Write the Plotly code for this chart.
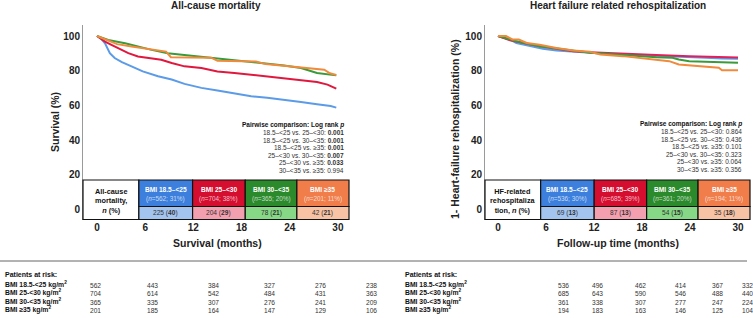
import plotly.graph_objects as go

W, H = 753, 318
FONT = "Liberation Sans, Arial, sans-serif"

# ---------------- data ----------------
groups = ["BMI 18.5–&lt;25", "BMI 25–&lt;30", "BMI 30–&lt;35", "BMI ≥35"]
risk_labels = ["BMI 18.5-&lt;25 kg/m<sup>2</sup>", "BMI 25-&lt;30 kg/m<sup>2</sup>",
               "BMI 30-&lt;35 kg/m<sup>2</sup>", "BMI ≥35 kg/m<sup>2</sup>"]

# All-cause mortality (survival %)
t_blue_L = [0, 0.5, 1.0, 1.6, 2.2, 3.1, 4.3, 5.7, 7.6, 9.3, 10.9, 13.0, 15.0, 17.1, 19.2, 21.2, 23.3, 25.4, 27.4, 29.1, 29.8]
s_blue_L = [100, 98.5, 95.8, 90.1, 87.3, 84.9, 82.5, 79.6, 76.8, 74.9, 72.4, 70.1, 68.6, 66.9, 65.3, 64.4, 63.3, 61.9, 60.6, 59.6, 58.7]
t_red_L = [0, 1.0, 1.8, 2.6, 3.9, 5.1, 6.8, 8.0, 9.3, 10.9, 13.0, 15.0, 17.1, 19.2, 21.2, 23.3, 25.4, 27.4, 28.7, 29.8]
s_red_L = [100, 96.8, 94.9, 93.0, 90.1, 88.2, 87.3, 86.3, 84.4, 82.5, 81.5, 79.6, 78.7, 77.7, 76.8, 75.8, 74.5, 73.5, 72.0, 69.7]
t_green_L = [0, 1.4, 3.5, 5.1, 6.8, 8.8, 10.9, 13.0, 15.0, 17.1, 19.2, 21.2, 23.3, 25.4, 27.4, 29.8]
s_green_L = [100, 97.7, 95.8, 93.9, 92.0, 90.1, 89.1, 88.2, 87.3, 86.3, 85.3, 84.4, 83.0, 81.5, 78.7, 77.3]
t_orange_L = [0, 1.5, 2.5, 4.3, 6.8, 8.6, 9.2, 14.2, 15.0, 19.8, 21.0, 25.4, 27.0, 28.3, 29.0, 29.8]
s_orange_L = [100, 97.0, 95.3, 93.9, 92.0, 91.0, 87.8, 87.5, 85.8, 85.3, 83.8, 82.0, 81.0, 80.6, 78.5, 77.5]

# HF rehospitalization (1 - event %)
t_blue_R = [0, 1.5, 2.3, 4.0, 5.6, 7.3, 9.4, 11.5, 13.5, 15.6, 17.7, 19.8, 21.8, 23.9, 26.0, 28.0, 30.0]
s_blue_R = [100, 97.9, 96.0, 94.1, 92.7, 91.6, 90.9, 90.3, 89.7, 89.3, 89.0, 88.4, 88.0, 87.8, 87.4, 87.0, 86.9]
t_red_R = [0, 1.5, 3.2, 5.2, 7.3, 9.4, 11.5, 15.6, 19.8, 23.9, 26.0, 28.0, 30.0]
s_red_R = [100, 97.5, 96.0, 94.1, 92.7, 91.2, 90.6, 89.7, 89.0, 88.4, 88.0, 87.6, 87.6]
t_green_R = [0, 2.3, 5.2, 7.3, 11.5, 13.5, 15.6, 19.8, 21.8, 22.6, 23.9, 26.0, 30.0]
s_green_R = [100, 97.0, 94.1, 92.7, 90.3, 89.7, 89.0, 87.8, 87.4, 86.5, 85.5, 85.1, 84.6]
t_orange_R = [0, 1.0, 1.8, 2.6, 3.6, 5.2, 7.3, 9.4, 11.5, 12.8, 15.6, 17.7, 19.8, 21.4, 22.6, 24.7, 27.6, 28.0, 30.0]
s_orange_R = [100, 100, 98.0, 98.0, 96.0, 95.0, 93.1, 91.6, 90.9, 89.3, 88.4, 87.4, 86.5, 85.5, 83.6, 82.7, 81.7, 80.2, 80.2]

x_ticks = [0, 6, 12, 18, 24, 30]
y_ticks = [0, 20, 40, 60, 80, 100]

n_L = [562, 704, 365, 201]
npct_L = [31, 38, 20, 11]
ev_L = [225, 204, 78, 42]
evpct_L = [40, 29, 21, 21]
n_R = [536, 685, 361, 194]
npct_R = [30, 39, 20, 11]
ev_R = [69, 87, 54, 35]
evpct_R = [13, 13, 15, 18]

pairs = ["18.5–&lt;25 vs. 25–&lt;30", "18.5–&lt;25 vs. 30–&lt;35", "18.5–&lt;25 vs. ≥35",
         "25–&lt;30 vs. 30–&lt;35", "25–&lt;30 vs. ≥35", "30–&lt;35 vs. ≥35"]
p_L = ["0.001", "0.001", "0.001", "0.007", "0.033", "0.994"]
p_L_sig = [True, True, True, True, True, False]
p_R = ["0.864", "0.436", "0.101", "0.323", "0.064", "0.356"]

risk_L = [[562, 443, 384, 327, 276, 238],
          [704, 614, 542, 484, 431, 363],
          [365, 335, 307, 276, 241, 209],
          [201, 185, 164, 147, 129, 106]]
risk_R = [[536, 496, 462, 414, 367, 332],
          [685, 643, 590, 546, 488, 440],
          [361, 338, 307, 277, 247, 224],
          [194, 183, 163, 146, 125, 104]]

# ---------------- styles ----------------
line_cols_L = ["#5b9be8", "#e0183e", "#3a9a3a", "#f08a3c"]
line_cols_R = ["#5b9be8", "#e0205a", "#3a9a3a", "#f08a3c"]
head_cols = ["#3d7fdc", "#d50d2f", "#2b8a2b", "#f07d4a"]
low_cols = ["#a3c4ef", "#f49fb0", "#86d886", "#f8c3a5"]


def px(x):
    return x / W


def py(y):
    return 1 - y / H


fig = go.Figure()

left = [(t_blue_L, s_blue_L), (t_red_L, s_red_L), (t_green_L, s_green_L), (t_orange_L, s_orange_L)]
right = [(t_blue_R, s_blue_R), (t_red_R, s_red_R), (t_green_R, s_green_R), (t_orange_R, s_orange_R)]
for (t, s), c in zip(left, line_cols_L):
    fig.add_trace(go.Scatter(x=t, y=s, mode="lines", line=dict(color=c, width=2),
                             xaxis="x", yaxis="y", hoverinfo="skip", showlegend=False))
for (t, s), c in zip(right, line_cols_R):
    fig.add_trace(go.Scatter(x=t, y=s, mode="lines", line=dict(color=c, width=2),
                             xaxis="x2", yaxis="y2", hoverinfo="skip", showlegend=False))

# axis geometry (pixels)
TOP, BOT = 25, 219.5
L_X0, L_X1 = 83, 349
R_X0, R_X1 = 485, 750
Y0_PX, Y100_PX = 209.5, 36
ppu = (Y0_PX - Y100_PX) / 100
yr = [-(BOT - Y0_PX) / ppu, 100 + (Y100_PX - TOP) / ppu]

axfont = dict(family=FONT, size=10, color="#222", weight="bold")
common_y = dict(range=yr, tickvals=y_ticks, showgrid=False, zeroline=False, showline=True,
                linecolor="#9a9a9a", linewidth=1, ticks="", tickfont=axfont,
                domain=[py(BOT), py(TOP)])
common_x = dict(tickvals=x_ticks, showgrid=False, zeroline=False, showline=False, ticks="",
                tickfont=axfont)

fig.update_layout(
    width=W, height=H, margin=dict(l=0, r=0, t=0, b=0),
    paper_bgcolor="white", plot_bgcolor="white",
    font=dict(family=FONT),
    xaxis=dict(domain=[px(L_X0), px(L_X1)], range=[-14 / 8.03, 252 / 8.03], anchor="y", **common_x),
    yaxis=dict(anchor="x", **common_y),
    xaxis2=dict(domain=[px(R_X0), px(R_X1)], range=[-13 / 8.0, 252 / 8.0], anchor="y2", **common_x),
    yaxis2=dict(anchor="x2", **common_y),
)

shapes = []
anns = []


def ann(text, x, y, size, color="#222", xanchor="center", yanchor="middle", angle=0, bold=False, align="center"):
    if bold:
        text = "<b>" + text + "</b>"
    anns.append(dict(text=text, x=px(x), y=py(y), xref="paper", yref="paper", showarrow=False,
                     xanchor=xanchor, yanchor=yanchor, textangle=angle, align=align,
                     font=dict(family=FONT, size=size, color=color), borderpad=0))


# Titles
ann("All-cause mortality", 216, 6, 10, bold=True)
ann("Heart failure related rehospitalization", 617.5, 6, 10, bold=True)
ann("Survival (%)", 55, 122, 10.5, bold=True, angle=-90)
ann("1- Heart-failure rehospitalization (%)", 455, 129, 10.5, bold=True, angle=-90)
ann("Survival (months)", 217, 243, 10.5, bold=True)
ann("Follow-up time (months)", 617.5, 243, 10.5, bold=True)

# Pairwise comparisons
pair_y_L = [125, 132.5, 140, 147.5, 155.2, 162.8, 170.4]
pair_y_R = [124, 131.5, 139, 146.6, 154.2, 161.8, 169.4]
ann("Pairwise comparison: Log rank <i>p</i>", 344.5, pair_y_L[0], 6.5, color="#111", xanchor="right", bold=True)
ann("Pairwise comparison: Log rank <i>p</i>", 743, pair_y_R[0], 6.5, color="#111", xanchor="right", bold=True)
for i, lab in enumerate(pairs):
    v = "<b>%s</b>" % p_L[i] if p_L_sig[i] else p_L[i]
    ann("%s: %s" % (lab, v), 344.5, pair_y_L[i + 1], 6.5, color="#333", xanchor="right")
    ann("%s: %s" % (lab, p_R[i]), 743, pair_y_R[i + 1], 6.5, color="#333", xanchor="right")

# Tables inside plots
T_TOP, T_MID, T_BOT = 180, 206.5, 219.5


def table(x0, x1, label, ns, npcts, evs, evpcts):
    fr = [0, 0.21, 0.412, 0.61, 0.804, 1.0]
    xs = [x0 + f * (x1 - x0) for f in fr]
    shapes.append(dict(type="rect", xref="paper", yref="paper", x0=px(xs[0]), x1=px(xs[1]),
                       y0=py(T_BOT), y1=py(T_TOP), fillcolor="white", line=dict(color="#111", width=1.2),
                       layer="above"))
    ann(label, (xs[0] + xs[1]) / 2, 200.5, 7.3, color="#111", bold=True)
    for i in range(4):
        a, b = xs[i + 1], xs[i + 2]
        shapes.append(dict(type="rect", xref="paper", yref="paper", x0=px(a), x1=px(b),
                           y0=py(T_MID), y1=py(T_TOP), fillcolor=head_cols[i],
                           line=dict(color="#111", width=1.2), layer="above"))
        shapes.append(dict(type="rect", xref="paper", yref="paper", x0=px(a), x1=px(b),
                           y0=py(T_BOT), y1=py(T_MID), fillcolor=low_cols[i],
                           line=dict(color="#111", width=1.2), layer="above"))
        cx = (a + b) / 2
        ann(groups[i], cx, 189.5, 6.6, color="white", bold=True)
        ann("(<i>n</i>=%d; %d%%)" % (ns[i], npcts[i]), cx, 198.8, 6.4, color="rgba(255,255,255,0.72)")
        ann("%d (<b>%d</b>)" % (evs[i], evpcts[i]), cx, 213, 6.6, color="#333")


table(L_X0, L_X1, "All-cause<br>mortality,<br><i>n</i> (%)", n_L, npct_L, ev_L, evpct_L)
table(R_X0, R_X1, "HF-related<br>rehospitaliza<br>tion, <i>n</i> (%)", n_R, npct_R, ev_R, evpct_R)

# separator line
shapes.append(dict(type="line", xref="paper", yref="paper", x0=0, x1=px(747), y0=py(261), y1=py(261),
                   line=dict(color="#666", width=1)))

# patients at risk
risk_x_L = [95, 152, 213, 269, 320, 371]
risk_x_R = [563, 597, 640, 680, 717, 747]
row_y = [284, 292.5, 301, 309.5]
ann("Patients at risk:", 4, 274.5, 7, color="#111", xanchor="left", bold=True)
ann("Patients at risk:", 404, 274.5, 7, color="#111", xanchor="left", bold=True)
for r in range(4):
    ann(risk_labels[r], 4, row_y[r], 6.8, color="#111", xanchor="left", bold=True)
    ann(risk_labels[r], 404, row_y[r], 6.8, color="#111", xanchor="left", bold=True)
    for c in range(6):
        ann(str(risk_L[r][c]), risk_x_L[c], row_y[r] + 1.2, 6.6, color="#333")
        ann(str(risk_R[r][c]), risk_x_R[c], row_y[r] + 1.2, 6.6, color="#333")

fig.update_layout(shapes=shapes, annotations=anns)
fig.write_html("out.html", config={"displayModeBar": False},
               post_script="document.body.style.margin='0px';document.body.style.overflow='hidden';")
